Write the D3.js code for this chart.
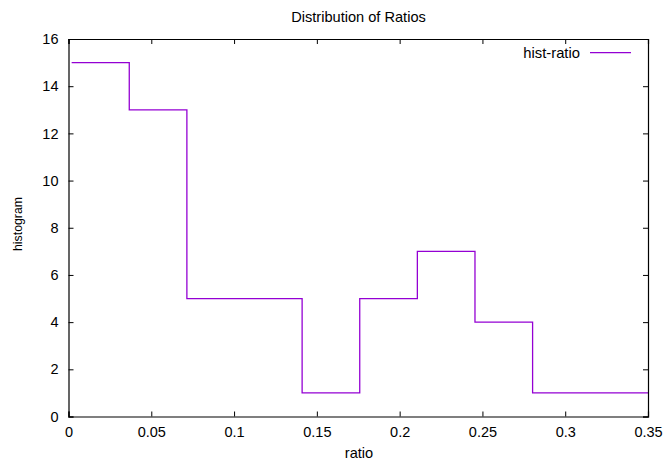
<!DOCTYPE html>
<html>
<head>
<meta charset="utf-8">
<script src="https://cdn.jsdelivr.net/npm/d3@7"></script>
<style>
  body { margin: 0; background: #fff; }
  svg { font-family: "Liberation Sans", Arial, sans-serif; }
</style>
</head>
<body>
<svg width="665" height="462"></svg>
<script>
// histogram steps
const binStarts = [0.0019, 0.0367, 0.0715, 0.1063, 0.1411, 0.1759, 0.2107, 0.2455, 0.2803, 0.3151, 0.3499];
const counts    = [15, 13, 5, 5, 1, 5, 7, 4, 1, 1, 1];
const xTicks = [0, 0.05, 0.1, 0.15, 0.2, 0.25, 0.3, 0.35];
const yTicks = [0, 2, 4, 6, 8, 10, 12, 14, 16];

const svg = d3.select("svg");
const mLeft = 68.5, mRight = 648, mTop = 39, mBottom = 416.5;

const x = d3.scaleLinear().domain([0, 0.35]).range([mLeft, mRight]);
const y = d3.scaleLinear().domain([0, 16]).range([mBottom, mTop]);

const pts = binStarts.map((d, i) => [d, counts[i]]);

svg.append("defs").append("clipPath").attr("id", "clip")
  .append("rect").attr("x", mLeft).attr("y", mTop)
  .attr("width", mRight - mLeft).attr("height", mBottom - mTop);

// steps
const line = d3.line()
  .x(d => x(d[0]))
  .y(d => y(d[1]))
  .curve(d3.curveStepAfter);

svg.append("path")
  .datum(pts.concat([[0.36, 1]]))
  .attr("clip-path", "url(#clip)")
  .attr("d", line)
  .attr("fill", "none")
  .attr("stroke", "#9400d3")
  .attr("stroke-width", 1.3);

// axes (ticks pointing inward, mirrored)
const tl = 5;
const fmt = d => d3.format("")(+d.toFixed(2));

svg.append("g").attr("transform", `translate(0,${mBottom})`)
  .call(d3.axisBottom(x).tickValues(xTicks).tickSize(-tl).tickPadding(10.7).tickFormat(fmt));
svg.append("g").attr("transform", `translate(0,${mTop})`)
  .call(d3.axisTop(x).tickValues(xTicks).tickSize(-tl).tickFormat(""));
svg.append("g").attr("transform", `translate(${mLeft},0)`)
  .call(d3.axisLeft(y).tickValues(yTicks).tickSize(-tl).tickPadding(10));
svg.append("g").attr("transform", `translate(${mRight},0)`)
  .call(d3.axisRight(y).tickValues(yTicks).tickSize(-tl).tickFormat(""));

svg.selectAll(".domain").attr("stroke", "#000").attr("stroke-width", 1.2);
svg.selectAll(".tick line").attr("stroke", "#000");
svg.selectAll(".tick text").attr("font-size", 14.5).attr("fill", "#000")
  .attr("font-family", "Liberation Sans, Arial, sans-serif");

// titles
svg.append("text").attr("x", 358.5).attr("y", 22).attr("text-anchor", "middle")
  .attr("font-size", 14.6).text("Distribution of Ratios");
svg.append("text").attr("x", 359).attr("y", 458).attr("text-anchor", "middle")
  .attr("font-size", 14.6).text("ratio");
svg.append("text").attr("transform", "translate(21.5,224) rotate(-90)")
  .attr("text-anchor", "middle").attr("font-size", 12.3).text("histogram");

// legend
svg.append("text").attr("x", 580).attr("y", 57.5).attr("text-anchor", "end")
  .attr("font-size", 14.8).text("hist-ratio");
svg.append("line").attr("x1", 590).attr("x2", 631).attr("y1", 52.7).attr("y2", 52.7)
  .attr("stroke", "#9400d3").attr("stroke-width", 1.3);
</script>
</body>
</html>
